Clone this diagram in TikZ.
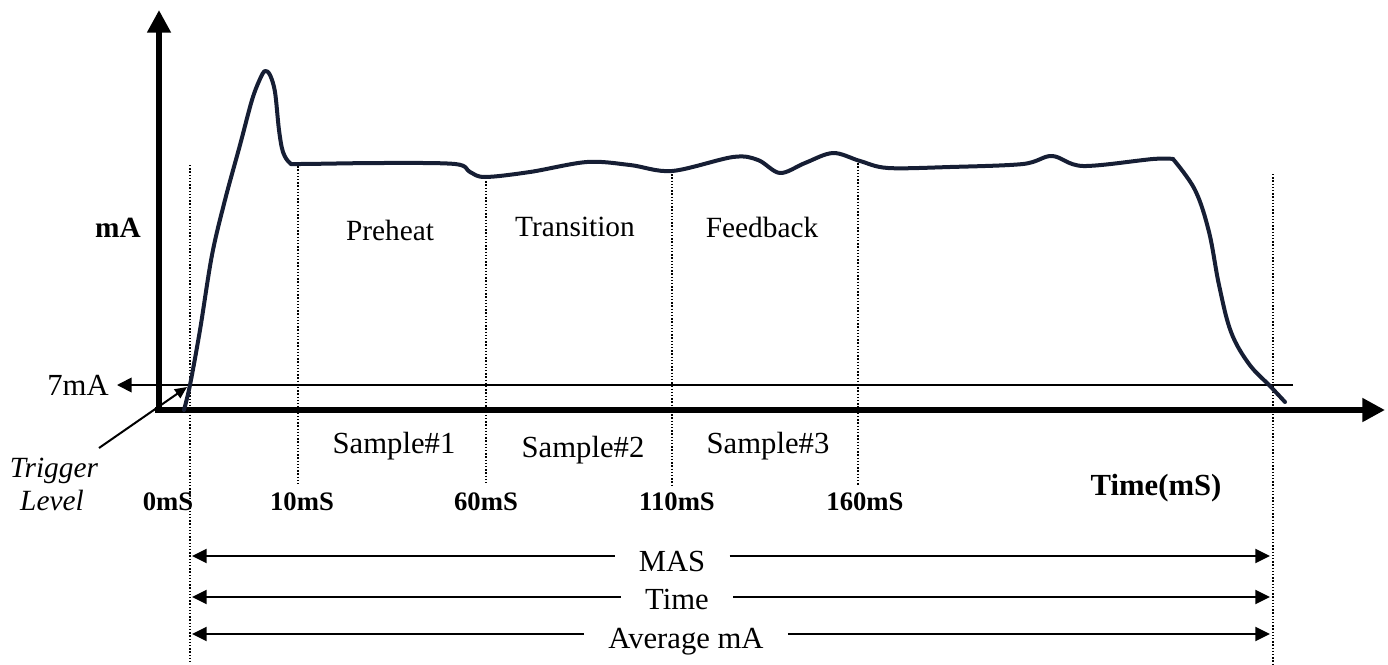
\documentclass[tikz,border=0pt]{standalone}
\usepackage{fontspec}
\setmainfont{Liberation Serif}
\usetikzlibrary{arrows.meta}

\definecolor{curvenavy}{RGB}{22,30,52}

\begin{document}
\begin{tikzpicture}[x=0.75pt,y=0.75pt,yscale=-1,xscale=1]
\tikzset{
  axisline/.style={line width=5.2pt,-{Triangle[length=17pt,width=17pt]}},
  guide/.style={line width=1.1pt,dash pattern=on 1.1pt off 1.3pt},
  dimline/.style={line width=1.5pt,-{Triangle[length=11pt,width=10.5pt]}},
  curveline/.style={curvenavy,line width=3pt,line join=round,line cap=round},
  lbl/.style={anchor=base,inner sep=0pt,font=\fontsize{22}{26}\selectfont},
  ticklbl/.style={anchor=base,inner sep=0pt,font=\bfseries\fontsize{20}{24}\selectfont},
  dimlbl/.style={anchor=base,inner xsep=18pt,inner ysep=0pt,font=\fontsize{23}{27}\selectfont},
}
\useasboundingbox (0,0) rectangle (1388,664);

% Guide lines
\foreach \gx/\gtop/\gbot in {190/165/664, 298/163/485, 486/178/485, 672/171/485, 858/160/485, 1273/174/664}
  \draw[guide] (\gx,\gtop) -- (\gx,\gbot);

% Trigger level line
\node[lbl,font=\fontsize{23}{27}\selectfont] (lvl) at (78,395) {7mA};
\coordinate (lvlL) at (117,385);
\coordinate (lvlR) at (1293,385);
\draw[line width=1.3pt,-{Triangle[length=11pt,width=11pt]}] (lvlR) -- (lvlL);

% Axes
\coordinate (ytop) at (159,10);
\coordinate (xend) at (1385,410);
\draw[axisline] (159,413) -- (ytop);
\draw[axisline] (155,410) -- (xend);

% Current curve
\draw[curveline] plot[smooth,tension=0.55] coordinates {
  (184,410) (190,385) (200,330) (212,255) (225,200) (240,145) (252,100)
  (260,79) (265,71) (270,75) (275,92) (279,130) (283,152) (290,163) (300,164)
  (380,163) (455,164) (470,172) (485,177) (530,172) (587,162) (630,165) (672,171)
  (733,157) (758,160) (780,173) (805,163) (833,153) (860,161) (888,168) (950,167)
  (1023,164) (1052,156) (1083,166) (1153,159) (1173,159)};
\draw[curveline] plot[smooth,tension=0.6] coordinates {
  (1173,159) (1195,190) (1209,232) (1219,285) (1231,332) (1249,364) (1270,386) (1285,402)};

% Text Node
\node[lbl,font=\bfseries\fontsize{22}{26}\selectfont] (ma) at (118,237) {mA};
\node[lbl] (preheat) at (390,240) {Preheat};
\node[lbl] (transition) at (575,236) {Transition};
\node[lbl] (feedback) at (762,237) {Feedback};
\node[lbl,font=\fontsize{23}{27}\selectfont] (smp1) at (394,453) {Sample\#1};
\node[lbl,font=\fontsize{23}{27}\selectfont] (smp2) at (583,457) {Sample\#2};
\node[lbl,font=\fontsize{23}{27}\selectfont] (smp3) at (768,453) {Sample\#3};
\node[lbl,font=\bfseries\fontsize{23}{27}\selectfont] (timems) at (1156,495) {Time(mS)};
\node[lbl,font=\itshape\fontsize{22}{26}\selectfont] (trig) at (54,477) {Trigger};
\node[lbl,font=\itshape\fontsize{22}{26}\selectfont] (lev) at (52,510) {Level};

% Tick labels
\node[ticklbl] (t0) at (168,510) {0mS};
\node[ticklbl] (t10) at (302,510) {10mS};
\node[ticklbl] (t60) at (486,510) {60mS};
\node[ticklbl] (t110) at (677,510) {110mS};
\node[ticklbl] (t160) at (865,510) {160mS};

% Connection
\coordinate (trigTail) at (99,448);
\coordinate (trigTip) at (187,387);
\draw[line width=1.5pt,-{Triangle[length=9pt,width=8pt]}] (trigTail) -- (trigTip);

% Span arrows
\coordinate (masL) at (192,556);
\coordinate (masR) at (1270,556);
\node[dimlbl] (mas) at (672,571) {MAS};
\draw[dimline] (mas.west |- masL) -- (masL);
\draw[dimline] (mas.east |- masR) -- (masR);

\coordinate (timeL) at (192,597);
\coordinate (timeR) at (1270,597);
\node[dimlbl] (time) at (677,609) {Time};
\draw[dimline] (time.west |- timeL) -- (timeL);
\draw[dimline] (time.east |- timeR) -- (timeR);

\coordinate (avgL) at (192,634);
\coordinate (avgR) at (1270,634);
\node[dimlbl] (avg) at (686,648) {Average mA};
\draw[dimline] (avg.west |- avgL) -- (avgL);
\draw[dimline] (avg.east |- avgR) -- (avgR);

\end{tikzpicture}
\end{document}
